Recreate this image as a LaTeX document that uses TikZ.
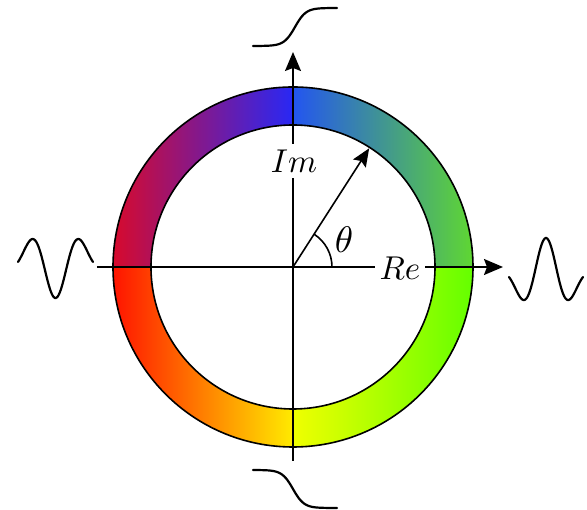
\documentclass[tikz,border=0pt]{standalone}
\usetikzlibrary{arrows.meta}
\definecolor{ulL}{RGB}{215,10,45}
\definecolor{ulR}{RGB}{40,40,245}
\definecolor{urL}{RGB}{35,85,240}
\definecolor{urR}{RGB}{95,215,50}
\definecolor{lrL}{RGB}{240,255,0}
\definecolor{lrR}{RGB}{100,255,0}
\definecolor{llL}{RGB}{255,20,0}
\definecolor{llR}{RGB}{255,235,0}
\begin{document}
\begin{tikzpicture}[x=1pt,y=1pt,
  tip/.style={-{Stealth[length=19pt,width=16pt,inset=3pt]}},
  thin line/.style={line width=1.6pt},
  ring line/.style={line width=1.6pt},
  wave/.style={line width=2.2pt, line cap=round},
  lbl/.style={fill=white, inner sep=1.4pt, scale=3.3},
  ang/.style={inner sep=0pt, scale=3.7}]
\useasboundingbox (-293,-243) rectangle (294,267);
\coordinate (O) at (0,0);
% coloured ring, four quadrants
\shade[left color=ulL, right color=ulR] (180:142) -- (180:180) arc[start angle=180,end angle=90,radius=180] -- (90:142) arc[start angle=90,end angle=180,radius=142] -- cycle;
\shade[left color=urL, right color=urR] (0:142) -- (0:180) arc[start angle=0,end angle=90,radius=180] -- (90:142) arc[start angle=90,end angle=0,radius=142] -- cycle;
\shade[left color=lrL, right color=lrR] (0:142) -- (0:180) arc[start angle=0,end angle=-90,radius=180] -- (-90:142) arc[start angle=-90,end angle=0,radius=142] -- cycle;
\shade[left color=llL, right color=llR] (180:142) -- (180:180) arc[start angle=180,end angle=270,radius=180] -- (270:142) arc[start angle=270,end angle=180,radius=142] -- cycle;
\draw[ring line] (O) circle[radius=180];
\draw[ring line] (O) circle[radius=142];
% axes
\coordinate (xl) at (-196,0);
\coordinate (xr) at (210,0);
\coordinate (yb) at (0,-194);
\coordinate (yt) at (0,215);
\draw[thin line, tip] (xl) -- (xr);
\draw[thin line, tip] (yb) -- (yt);
\node[lbl] (re) at (107,-1) {$Re$};
\node[lbl, minimum height=10.5pt] (im) at (1,106) {$Im$};
% angle
\coordinate (p) at (57.3:141);
\draw[thin line, -{Stealth[length=18pt,width=15pt,inset=3pt]}] (O) -- (p);
\draw[thin line] (39,0) arc[start angle=0,end angle=57.3,radius=39];
\node[ang] (th) at (51,27) {$\theta$};
% waves
\draw[wave] plot[domain=-37.5:37.5, samples=90, variable=\u] ({-237.5+\u}, {5-36*cos(7.2*\u)*exp(-(\u/35.6)^2)});
\draw[wave] plot[domain=-37:37, samples=90, variable=\u] ({253+\u}, {-10+39*cos(7.297*\u)*exp(-(\u/32.2)^2)});
\draw[wave] plot[domain=-40:44, samples=80, variable=\u] ({\u}, {240+19*tanh((\u-2)/11)});
\draw[wave] plot[domain=-40:44, samples=80, variable=\u] ({\u}, {-222-19*tanh(\u/11)});
\end{tikzpicture}
\end{document}
